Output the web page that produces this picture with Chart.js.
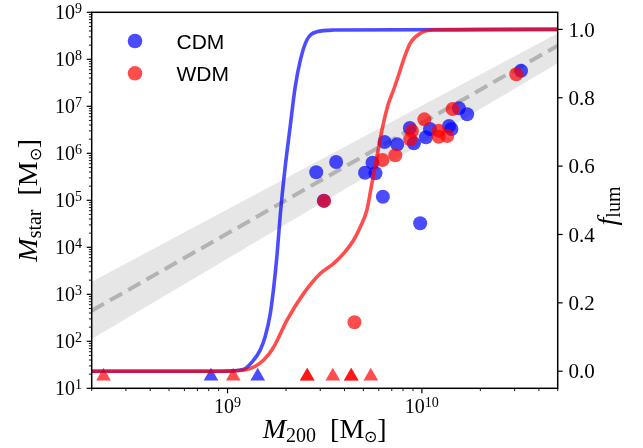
<!DOCTYPE html>
<html><head><meta charset="utf-8">
<script src="https://cdn.jsdelivr.net/npm/chart.js@4"></script>
<style>html,body{margin:0;padding:0;background:#fff;}canvas{display:block;}</style>
</head><body>
<canvas id="c" width="643" height="448" style="width:643px;height:448px"></canvas>
<script>
// ---- data ----
const cdmM200  = [2.86e9, 3.62e9, 3.13e9, 5.1e9, 5.57e9, 5.77e9, 6.43e9, 7.47e9, 6.3e9, 8.67e9, 9.1e9, 9.8e9, 1.05e10, 1.10e10, 1.38e10, 1.42e10, 1.55e10, 1.71e10, 3.24e10];
const cdmMstar = [3.94e5, 6.53e5, 9.8e4, 3.86e5, 6.3e5, 3.75e5, 1.74e6, 1.55e6, 1.19e5, 3.45e6, 1.63e6, 3.24e4, 2.19e6, 3.3e6, 3.81e6, 3.3e6, 9.06e6, 6.76e6, 5.7e7];
const wdmM200  = [3.14e9, 4.5e9, 6.27e9, 7.3e9, 8.71e9, 8.89e9, 1.03e10, 1.22e10, 1.22e10, 1.35e10, 1.44e10, 3.06e10];
const wdmMstar = [9.7e4, 254, 7.2e5, 9.06e5, 1.99e6, 2.98e6, 5.28e6, 3.03e6, 2.25e6, 2.33e6, 8.77e6, 4.8e7];

// dark haloes (upper limits, drawn as triangles)
const cdmDarkM200  = [8.22e8, 1.43e9];
const cdmDarkMstar = [18, 18];
const wdmDarkM200  = [2.3e8, 1.07e9, 2.57e9, 2.57e9, 3.48e9, 4.33e9, 4.33e9, 5.46e9];
const wdmDarkMstar = [18, 18, 18, 18, 18, 18, 18, 18];

// luminous fraction curves (right axis)
const cdmCurveM200 = [2e8, 9.17e8, 1.205e9, 1.36e9, 1.47e9, 1.56e9, 1.66e9, 1.73e9, 1.80e9, 1.87e9, 1.98e9, 2.10e9, 2.23e9, 2.37e9, 2.56e9, 2.88e9, 3.5e9, 5e10];
const cdmCurveFlum = [0, 0, 0.005, 0.032, 0.061, 0.10, 0.169, 0.247, 0.344, 0.46, 0.598, 0.715, 0.832, 0.91, 0.969, 0.993, 0.998, 1.0];
const wdmCurveM200 = [2e8, 9.5e8, 1.258e9, 1.53e9, 1.73e9, 2.02e9, 2.46e9, 3.0e9, 3.51e9, 3.95e9, 4.45e9, 4.82e9, 5.21e9, 5.53e9, 5.87e9, 6.23e9, 6.73e9, 7.14e9, 7.73e9, 8.04e9, 8.7e9, 9.8e9, 1.15e10, 5e10];
const wdmCurveFlum = [0, 0, 0.005, 0.032, 0.071, 0.149, 0.227, 0.286, 0.315, 0.344, 0.383, 0.422, 0.471, 0.549, 0.627, 0.705, 0.783, 0.822, 0.88, 0.91, 0.959, 0.988, 0.998, 1.0];

// mean relation and scatter band
const relM200   = [2e8, 5e10];
const relMstar  = [448, 1.95e8];
const bandUpper = [1855, 3.57e8];
const bandLower = [112, 8.2e7];

// ticks
const xDecades = [8, 9, 10];
const xLabelExps = [9, 10];
const yDecades = [1, 2, 3, 4, 5, 6, 7, 8];
const yLabelExps = [1, 2, 3, 4, 5, 6, 7, 8, 9];
const flumTicks = [0.0, 0.2, 0.4, 0.6, 0.8, 1.0];

const legendLabels = ['CDM', 'WDM'];

// ---- build chart ----
const pts = (xs, ys) => xs.map((x, i) => ({x: x, y: ys[i]}));
const BLUE = 'rgba(0,0,255,0.7)';
const RED = 'rgba(255,0,0,0.7)';
const SERIF = '"Liberation Serif","Times New Roman",serif';
const SANS = '"Liberation Sans",Arial,sans-serif';

function drawRuns(ctx, runs, x, y) {
  let cx = x;
  for (const r of runs) { ctx.font = r.font; ctx.fillText(r.t, cx, y + (r.dy || 0)); cx += ctx.measureText(r.t).width; }
  return cx - x;
}
function runsWidth(ctx, runs) {
  let w = 0;
  for (const r of runs) { ctx.font = r.font; w += ctx.measureText(r.t).width; }
  return w;
}
const powRuns = e => [{t: '10', font: '20px ' + SERIF}, {t: String(e), font: '14px ' + SERIF, dy: -6}];

const decor = {
  id: 'decor',
  afterDraw(chart) {
    const ctx = chart.ctx, ca = chart.chartArea;
    const xs = chart.scales.x, ys = chart.scales.y, y2 = chart.scales.y2;
    ctx.save();
    ctx.fillStyle = '#000'; ctx.strokeStyle = '#000';
    ctx.textBaseline = 'alphabetic'; ctx.textAlign = 'left';
    // frame
    ctx.lineWidth = 1.5;
    ctx.strokeRect(ca.left, ca.top, ca.right - ca.left, ca.bottom - ca.top);
    // bottom ticks
    ctx.lineWidth = 1;
    for (const e of xDecades) for (let m = 1; m <= 9; m++) {
      const v = m * Math.pow(10, e);
      if (v < xs.min * 0.999 || v > xs.max * 1.001) continue;
      const p = xs.getPixelForValue(v);
      ctx.beginPath(); ctx.lineWidth = m === 1 ? 1.2 : 0.9;
      ctx.moveTo(p, ca.bottom); ctx.lineTo(p, ca.bottom + (m === 1 ? 5 : 2.8)); ctx.stroke();
    }
    for (const e of xLabelExps) {
      const p = xs.getPixelForValue(Math.pow(10, e));
      const runs = powRuns(e);
      drawRuns(ctx, runs, p - runsWidth(ctx, runs) / 2, 413);
    }
    // left ticks
    for (const e of yDecades) for (let m = 1; m <= 9; m++) {
      const v = m * Math.pow(10, e);
      const p = ys.getPixelForValue(v);
      ctx.beginPath(); ctx.lineWidth = m === 1 ? 1.2 : 0.9;
      ctx.moveTo(ca.left, p); ctx.lineTo(ca.left - (m === 1 ? 5 : 2.8), p); ctx.stroke();
    }
    { const p = ys.getPixelForValue(1e9); ctx.beginPath(); ctx.lineWidth = 1.2; ctx.moveTo(ca.left, p); ctx.lineTo(ca.left - 5, p); ctx.stroke(); }
    for (const e of yLabelExps) {
      const p = ys.getPixelForValue(Math.pow(10, e));
      const runs = powRuns(e);
      drawRuns(ctx, runs, 82 - runsWidth(ctx, runs), p + 6.7);
    }
    // right ticks
    ctx.font = '21px ' + SERIF;
    for (const v of flumTicks) {
      const p = y2.getPixelForValue(v);
      ctx.beginPath(); ctx.lineWidth = 1.2; ctx.moveTo(ca.right, p); ctx.lineTo(ca.right + 5, p); ctx.stroke();
      ctx.fillText(v.toFixed(1), 568.5, p + 7.2);
    }
    // axis titles
    const xTitle = [
      {t: 'M', font: 'italic 28px ' + SERIF}, {t: '200', font: '20px ' + SERIF, dy: 4},
      {t: '  [M', font: '28px ' + SERIF}, {t: '\u2299', font: '16px ' + SERIF, dy: 4}, {t: ']', font: '28px ' + SERIF}];
    drawRuns(ctx, xTitle, (ca.left + ca.right) / 2 - runsWidth(ctx, xTitle) / 2, 438.3);
    const yTitle = [
      {t: 'M', font: 'italic 28px ' + SERIF}, {t: 'star', font: '20px ' + SERIF, dy: 4},
      {t: '  [M', font: '28px ' + SERIF}, {t: '\u2299', font: '16px ' + SERIF, dy: 4}, {t: ']', font: '28px ' + SERIF}];
    ctx.save(); ctx.translate(37, (ca.top + ca.bottom) / 2); ctx.rotate(-Math.PI / 2);
    drawRuns(ctx, yTitle, -runsWidth(ctx, yTitle) / 2, 0); ctx.restore();
    const y2Title = [{t: 'f', font: 'italic 28px ' + SERIF}, {t: 'lum', font: '20px ' + SERIF, dy: 4}];
    ctx.save(); ctx.translate(616, 206); ctx.rotate(-Math.PI / 2);
    drawRuns(ctx, y2Title, -runsWidth(ctx, y2Title) / 2, 0); ctx.restore();
    // legend
    const lc = [BLUE, RED];
    legendLabels.forEach((lab, i) => {
      const cy = 41 + i * 32.3;
      ctx.beginPath(); ctx.fillStyle = lc[i]; ctx.arc(135, cy, 7.3, 0, Math.PI * 2); ctx.fill();
      ctx.fillStyle = '#000'; ctx.font = '21px ' + SANS; ctx.fillText(lab, 176.5, cy + 7.5);
    });
    ctx.restore();
  }
};

const lineDs = (label, data, color, axis) => ({
  label, data, showLine: true, borderColor: color, borderWidth: 3.6, pointRadius: 0,
  cubicInterpolationMode: 'monotone', fill: false, yAxisID: axis
});
const dotDs = (label, data, color, style, r) => ({
  label, data, showLine: false, backgroundColor: color, borderWidth: 0, pointRadius: r,
  pointStyle: style, yAxisID: 'y'
});

new Chart(document.getElementById('c'), {
  type: 'scatter',
  data: {
    datasets: [
      lineDs('WDM f_lum', pts(wdmCurveM200, wdmCurveFlum), RED, 'y2'),
      lineDs('CDM f_lum', pts(cdmCurveM200, cdmCurveFlum), BLUE, 'y2'),
      dotDs('WDM', pts(wdmM200, wdmMstar), RED, 'circle', 7),
      dotDs('CDM', pts(cdmM200, cdmMstar), BLUE, 'circle', 7),
      dotDs('WDM dark', pts(wdmDarkM200, wdmDarkMstar), RED, 'triangle', 8.5),
      dotDs('CDM dark', pts(cdmDarkM200, cdmDarkMstar), BLUE, 'triangle', 8.5),
      { label: 'relation', data: pts(relM200, relMstar), showLine: true, borderColor: 'rgba(128,128,128,0.5)',
        borderWidth: 4, borderDash: [14, 7], pointRadius: 0, fill: false, yAxisID: 'y' },
      { label: 'band hi', data: pts(relM200, bandUpper), showLine: true, borderColor: 'transparent', borderWidth: 0,
        pointRadius: 0, fill: '+1', backgroundColor: 'rgba(128,128,128,0.2)', yAxisID: 'y' },
      { label: 'band lo', data: pts(relM200, bandLower), showLine: true, borderColor: 'transparent', borderWidth: 0,
        pointRadius: 0, fill: false, yAxisID: 'y' }
    ]
  },
  options: {
    responsive: false, animation: false, devicePixelRatio: 1,
    layout: { padding: { top: 12.3, left: 0, right: 0, bottom: 0 } },
    plugins: { legend: { display: false }, tooltip: { enabled: false } },
    events: [],
    scales: {
      x: { type: 'logarithmic', min: 2e8, max: 5e10, ticks: { display: false }, grid: { display: false }, border: { display: false },
           afterFit: s => { s.height = 59.7; } },
      y: { type: 'logarithmic', position: 'left', min: 10, max: 1e9, ticks: { display: false }, grid: { display: false }, border: { display: false },
           afterFit: s => { s.width = 91.7; } },
      y2: { type: 'linear', position: 'right', min: -0.05, max: 1.05, ticks: { display: false }, grid: { display: false }, border: { display: false },
           afterFit: s => { s.width = 85.3; } }
    }
  },
  plugins: [decor]
});
</script>
</body></html>
